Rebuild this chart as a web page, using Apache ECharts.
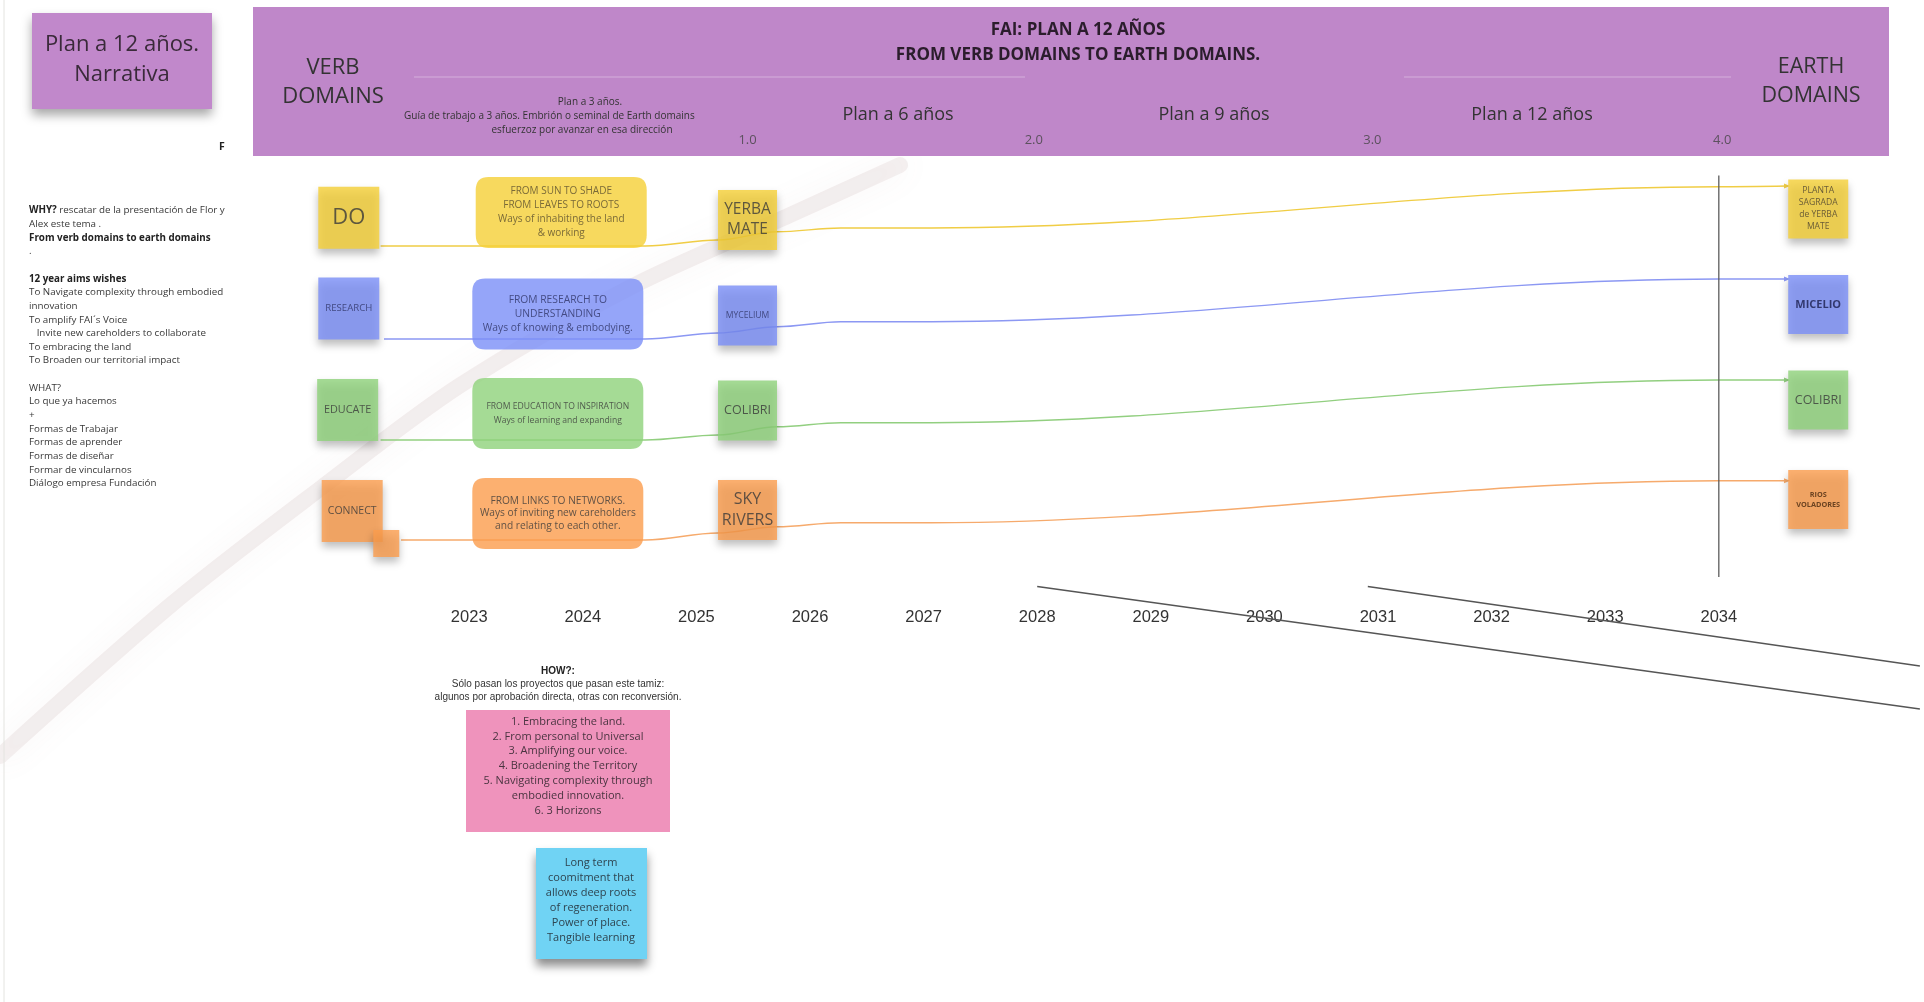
<!DOCTYPE html>
<html><head><meta charset="utf-8">
<script src="https://cdn.jsdelivr.net/npm/echarts@6/dist/echarts.min.js"></script>
<style>html,body{margin:0;padding:0;background:#ffffff}#c{width:1924px;height:1002px}</style>
</head><body><div id="c"></div>
<script>
// ---------------- DATA ----------------
const yearLabels = ['2023','2024','2025','2026','2027','2028','2029','2030','2031','2032','2033','2034'];
const phaseYears = [2025.45, 2027.97, 2030.95, 2034.03];
const phaseLabels = ['1.0', '2.0', '3.0', '4.0'];

// path of each domain line: [year, level]
const doPath       = [[2022.22,9.6],[2023.06,9.6],[2024.55,9.6],[2025.19,9.0],[2025.71,8.17],[2026.27,7.8],[2027.07,7.8],[2033.99,3.67],[2034.6,3.6]];
const researchPath = [[2022.25,18.9],[2023.03,18.9],[2024.55,18.9],[2025.19,18.3],[2025.71,17.67],[2026.27,17.17],[2027.07,17.17],[2033.99,12.9],[2034.6,12.9]];
const educatePath  = [[2022.22,29.0],[2023.03,29.0],[2024.55,29.0],[2025.19,28.5],[2025.71,27.67],[2026.27,27.27],[2027.07,27.27],[2033.99,23.0],[2034.6,23.0]];
const connectPath  = [[2022.4,39.0],[2023.03,39.0],[2024.55,39.0],[2025.19,38.3],[2025.71,37.67],[2026.27,37.27],[2027.07,37.27],[2033.99,33.07],[2034.6,33.07]];
const horizonLine  = [[2034.0,2.55],[2034.0,42.7]];
const diagonalA    = [[2028.0,43.65],[2035.77,55.9]];
const diagonalB    = [[2030.91,43.65],[2035.77,51.6]];

const verbLabels = ['DO','RESEARCH','EDUCATE','CONNECT'];
const verbPos = [[2021.94,6.78],[2021.94,15.85],[2021.93,26.0],[2021.97,36.1]];
const smallNotePos = [2022.27,39.35];
const transitionLabels = [
  'FROM SUN TO SHADE\nFROM LEAVES TO ROOTS\nWays of inhabiting the land\n& working',
  'FROM RESEARCH TO\nUNDERSTANDING\nWays of knowing & embodying.',
  'FROM EDUCATION TO INSPIRATION\nWays of learning and expanding',
  'FROM LINKS TO NETWORKS.\nWays of inviting new careholders\nand relating to each other.'
];
const transitionPos = [[2023.81,6.25],[2023.78,16.4],[2023.78,26.35],[2023.78,36.35]];
const midLabels = ['YERBA\nMATE','MYCELIUM','COLIBRI','SKY\nRIVERS'];
const midPos = [[2025.45,7.0],[2025.45,16.55],[2025.45,26.05],[2025.45,36.0]];
const earthLabels = ['PLANTA\nSAGRADA\nde YERBA\nMATE','MICELIO','COLIBRI','RIOS\nVOLADORES'];
const earthPos = [[2034.875,5.9],[2034.875,15.45],[2034.875,25.0],[2034.875,34.95]];

const sideText = [
  '{b|WHY?} rescatar de la presentación de Flor y',
  'Alex este tema .',
  '{b|From verb domains to earth domains}',
  '.',
  '',
  '{b|12 year aims wishes}',
  'To Navigate complexity through embodied',
  'innovation',
  'To amplify FAI´s Voice',
  '   Invite new careholders to collaborate',
  'To embracing the land',
  'To Broaden our territorial impact',
  '',
  'WHAT?',
  'Lo que ya hacemos',
  '+',
  'Formas de Trabajar',
  'Formas de aprender',
  'Formas de diseñar',
  'Formar de vincularnos',
  'Diálogo empresa Fundación'
];
const howText = ['Sólo pasan los proyectos que pasan este tamiz:', 'algunos por aprobación directa, otras con reconversión.'];
const filterItems = ['1. Embracing the land.','2. From personal to Universal','3. Amplifying our voice.','4. Broadening the Territory','5. Navigating complexity through','embodied innovation.','6. 3 Horizons'];
const longTermText = ['Long term','coomitment that','allows deep roots','of regeneration.','Power of place.','Tangible learning'];

// ---------------- STYLE ----------------
const FONT = "'Open Sans', 'Noto Sans', sans-serif";
const rowColors = ['#f5cf36', '#7b8ef7', '#8fd27b', '#fb9c4c'];
const lineColors = ['#f0cd45', '#8c98f3', '#92cf80', '#f6aa6c'];
const shadow = {shadowBlur: 8, shadowOffsetY: 5, shadowColor: 'rgba(0,0,0,0.32)'};
const roundBox = 'path://M13,0 L158,0 Q171,0 171,13 L171,58 Q171,71 158,71 L13,71 Q0,71 0,58 L0,13 Q0,0 13,0 Z';

function note(pos, text, color, size, lab, sym, withShadow) {
  return {
    value: pos,
    symbol: sym || 'rect',
    symbolSize: size,
    itemStyle: Object.assign({color: color}, withShadow === false ? {} : shadow),
    label: Object.assign({show: true, position: 'inside', formatter: text, fontFamily: FONT, color: '#3a3a3a', align: 'center'}, lab)
  };
}

const verbStyles = [
  {fontSize: 22}, {fontSize: 9.6, color: '#2f3566'}, {fontSize: 10.8}, {fontSize: 10.5}
];
const transStyles = [
  {fontSize: 10, lineHeight: 14, color: '#5a4d2e'},
  {fontSize: 10.3, lineHeight: 14.2, color: '#2f3566'},
  {fontSize: 8.6, lineHeight: 13.5},
  {fontSize: 10.2, lineHeight: 12.8}
];
const midStyles = [
  {fontSize: 15.5, lineHeight: 20}, {fontSize: 8.6, color: '#2f3566'}, {fontSize: 12.5}, {fontSize: 16, lineHeight: 21}
];
const earthStyles = [
  {fontSize: 8.6, lineHeight: 12, color: '#4a4030'},
  {fontSize: 11, fontWeight: 'bold', color: '#1b1f4d'},
  {fontSize: 12.5},
  {fontSize: 7.3, fontWeight: 'bold', lineHeight: 10, color: '#4a2a10'}
];

const notes = [];
verbLabels.forEach((t, i) => notes.push(note(verbPos[i], t, rowColors[i], [61, 62], verbStyles[i])));
notes.push(note(smallNotePos, ' ', rowColors[3], [26, 27], {}));
transitionLabels.forEach((t, i) => notes.push(note(transitionPos[i], t, rowColors[i], [171, 71], transStyles[i], roundBox, false)));
midLabels.forEach((t, i) => notes.push(note(midPos[i], t, rowColors[i], [59, 60], midStyles[i])));
earthLabels.forEach((t, i) => notes.push(note(earthPos[i], t, rowColors[i], [60, 59], earthStyles[i])));

const paths = [doPath, researchPath, educatePath, connectPath];
const series = paths.map((p, i) => ({
  type: 'line', smooth: 0.35, smoothMonotone: 'x', symbol: 'none', showSymbol: true, silent: true, z: 2,
  lineStyle: {color: lineColors[i], width: 1.4},
  itemStyle: {color: lineColors[i]},
  data: p.map((pt, k) => k === p.length - 1
    ? {value: pt, symbol: 'triangle', symbolSize: [5, 6], symbolRotate: -90}
    : {value: pt})
}));
series.push({type: 'line', data: horizonLine, symbol: 'none', silent: true, z: 2, lineStyle: {color: '#5c5c5c', width: 1.3}});
series.push({type: 'line', data: diagonalA, symbol: 'none', silent: true, clip: false, z: 2, lineStyle: {color: '#555', width: 1.3}});
series.push({type: 'line', data: diagonalB, symbol: 'none', silent: true, clip: false, z: 2, lineStyle: {color: '#555', width: 1.3}});
series.push({type: 'scatter', data: notes, silent: true, clip: false, z: 4, emphasis: {disabled: true}});
series.push({
  type: 'scatter', silent: true, clip: false, z: 6, symbolSize: 1,
  itemStyle: {color: 'rgba(0,0,0,0)'},
  data: phaseYears.map((y, i) => ({value: [y, -1.0], label: {show: true, position: 'inside', formatter: phaseLabels[i], fontSize: 13, color: '#444', fontFamily: FONT}}))
});

// ---------------- GRAPHICS (board annotations) ----------------
const txt = (x, y, text, o) => ({type: 'text', x: x, y: y, z: 5, silent: true,
  style: Object.assign({text: text, fontFamily: FONT, fill: '#333', align: 'center', verticalAlign: 'middle'}, o)});

const graphic = [
  {type: 'polyline', z: 0, silent: true,
   shape: {points: [[0,756],[172,604],[321,488],[459,386],[631,287],[790,215],[900,165]], smooth: 0.3},
   style: {stroke: 'rgba(160,128,128,0.11)', lineWidth: 16, fill: null, shadowBlur: 32, shadowColor: 'rgba(150,118,118,0.6)', lineCap: 'round'}},
  {type: 'line', z: 1, silent: true, shape: {x1: 4, y1: 0, x2: 4, y2: 1002}, style: {stroke: '#e4e4e0', lineWidth: 1}},
  {type: 'rect', z: 1, silent: true, shape: {x: 32, y: 13, width: 180, height: 96},
   style: {fill: '#c188cb', shadowBlur: 10, shadowOffsetY: 6, shadowColor: 'rgba(0,0,0,0.35)'}},
  txt(122, 60, 'Plan a 12 años.\nNarrativa', {fontSize: 22, lineHeight: 30, fill: '#3a2a3a'}),
  {type: 'rect', z: 1, silent: true, shape: {x: 253, y: 7, width: 1636, height: 149}, style: {fill: '#bf87c9'}},
  {type: 'line', z: 2, silent: true, shape: {x1: 414, y1: 77, x2: 1025, y2: 77}, style: {stroke: 'rgba(255,255,255,0.35)', lineWidth: 1}},
  {type: 'line', z: 2, silent: true, shape: {x1: 1404, y1: 77, x2: 1731, y2: 77}, style: {stroke: 'rgba(255,255,255,0.35)', lineWidth: 1}},
  txt(333, 82, 'VERB\nDOMAINS', {fontSize: 22, lineHeight: 29}),
  txt(1811, 81, 'EARTH\nDOMAINS', {fontSize: 21.5, lineHeight: 29}),
  txt(590, 102, 'Plan a 3 años.', {fontSize: 10}),
  txt(404, 116.5, 'Guía de trabajo a 3 años. Embrión o seminal de Earth domains', {fontSize: 10, align: 'left'}),
  txt(582, 130, 'esfuerzoz por avanzar en esa dirección', {fontSize: 10}),
  txt(898, 115, 'Plan a 6 años', {fontSize: 18}),
  txt(1214, 115, 'Plan a 9 años', {fontSize: 18}),
  txt(1532, 115, 'Plan a 12 años', {fontSize: 18}),
  txt(222, 147, 'F', {fontSize: 10.5, fontWeight: 'bold', fill: '#222'}),
  {type: 'text', x: 29, y: 203.7, z: 5, silent: true,
   style: {text: sideText.join('\n'), fontFamily: FONT, fontSize: 9.8, lineHeight: 13.65, fill: '#383838', align: 'left', verticalAlign: 'top',
     rich: {b: {fontFamily: FONT, fontSize: 9.8, lineHeight: 13.65, fontWeight: 'bold', fill: '#222'}}}},
  txt(558, 671, 'HOW?:', {fontSize: 10, fontWeight: 'bold', fontFamily: "'Liberation Sans', Arial, sans-serif", fill: '#222'}),
  txt(558, 690.5, howText.join('\n'), {fontSize: 10, lineHeight: 13, fontFamily: "'Liberation Sans', Arial, sans-serif", fill: '#333'}),
  {type: 'rect', z: 3, silent: true, shape: {x: 466, y: 710, width: 204, height: 122}, style: {fill: '#ef93bc'}},
  txt(568, 766.2, filterItems.join('\n'), {fontSize: 11, lineHeight: 14.85, fill: '#4a3440'}),
  {type: 'rect', z: 3, silent: true, shape: {x: 536, y: 848, width: 111, height: 111},
   style: {fill: '#70d3f4', shadowBlur: 9, shadowOffsetY: 7, shadowColor: 'rgba(0,0,0,0.45)'}},
  txt(591, 900.5, longTermText.join('\n'), {fontSize: 11, lineHeight: 15, fill: '#2e4450'})
];

const option = {
  animation: false,
  backgroundColor: '#ffffff',
  title: {
    text: 'FAI: PLAN A 12 AÑOS\nFROM VERB DOMAINS TO EARTH DOMAINS.',
    left: 1078, top: 18, padding: 0, textAlign: 'center', z: 8,
    textStyle: {fontFamily: FONT, fontSize: 17, fontWeight: 'bold', lineHeight: 25, color: '#2b1d2c'}
  },
  grid: {left: 242, right: 0.7, top: 150, bottom: 402, containLabel: false, outerBoundsMode: 'none'},
  xAxis: {
    type: 'value', min: 2021, max: 2035.8, interval: 1,
    axisLine: {show: false}, axisTick: {show: false}, splitLine: {show: false},
    axisLabel: {
      margin: 9, fontSize: 16.5, color: '#333',
      fontFamily: "'Liberation Sans', Arial, sans-serif",
      formatter: v => yearLabels.indexOf(String(v)) >= 0 ? String(v) : ''
    }
  },
  yAxis: {type: 'value', min: 0, max: 45, inverse: true, show: false},
  graphic: graphic,
  series: series
};

const chart = echarts.init(document.getElementById('c'));
chart.setOption(option);
</script>
</body></html>
